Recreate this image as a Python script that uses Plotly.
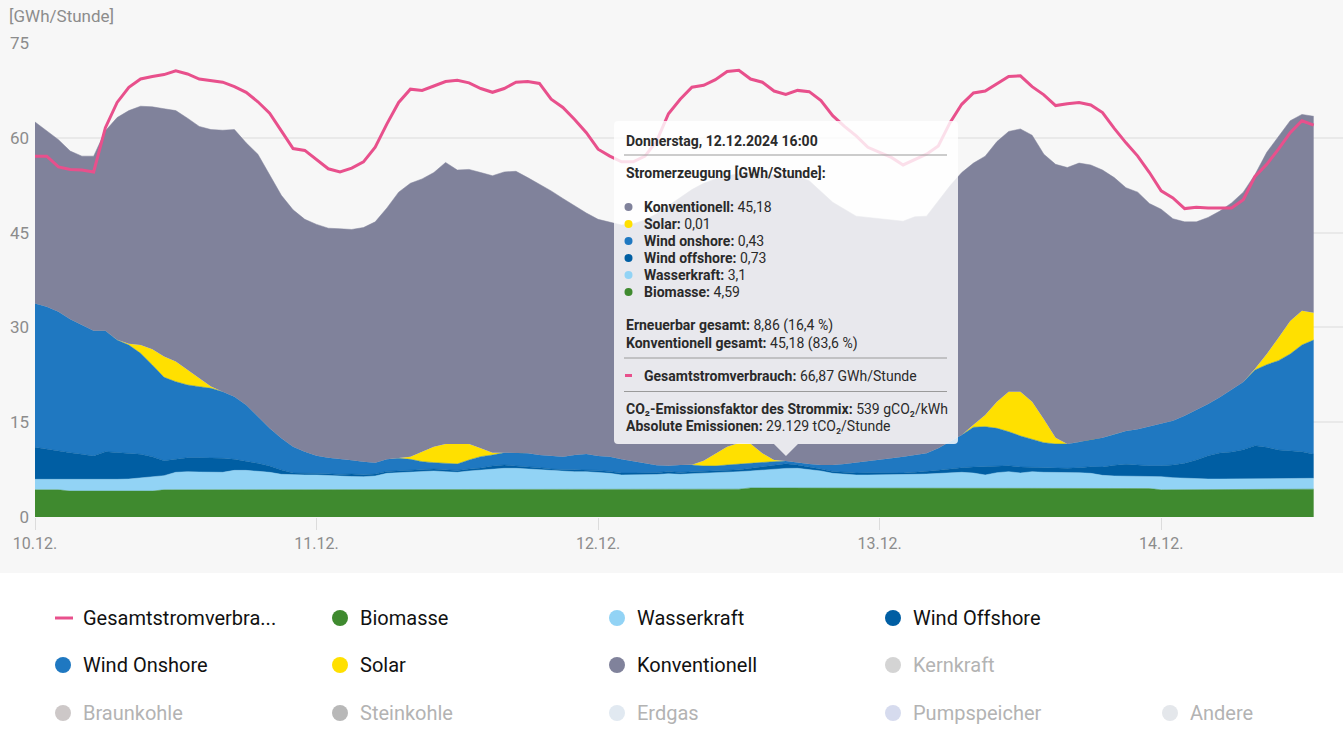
import pandas as pd
import plotly.graph_objects as go

W, H = 1343, 743
ML, MR, MT, MB = 35, 0, 43, 226   # plot area margins in px

hours = pd.date_range("2024-12-10 00:00", periods=110, freq="h")

biomasse = [4.3, 4.3, 4.3, 4.1, 4.1, 4.1, 4.1, 4.1, 4.1, 4.1,
            4.1, 4.3, 4.3, 4.3, 4.3, 4.3, 4.3, 4.3, 4.3, 4.3,
            4.3, 4.3, 4.3, 4.3, 4.3, 4.3, 4.3, 4.3, 4.3, 4.3,
            4.3, 4.3, 4.3, 4.3, 4.3, 4.3, 4.3, 4.3, 4.3, 4.3,
            4.3, 4.3, 4.3, 4.3, 4.3, 4.3, 4.3, 4.3, 4.3, 4.3,
            4.3, 4.4, 4.4, 4.4, 4.4, 4.4, 4.4, 4.4, 4.4, 4.4,
            4.4, 4.6, 4.6, 4.6, 4.59, 4.6, 4.6, 4.6, 4.6, 4.6,
            4.6, 4.6, 4.6, 4.6, 4.6, 4.6, 4.5, 4.5, 4.5, 4.5,
            4.5, 4.5, 4.5, 4.5, 4.5, 4.5, 4.5, 4.5, 4.5, 4.5,
            4.5, 4.5, 4.5, 4.5, 4.5, 4.5, 4.3, 4.3, 4.3, 4.3,
            4.3, 4.3, 4.3, 4.4, 4.4, 4.4, 4.4, 4.4, 4.4, 4.4]

wasserkraft = [1.66, 1.66, 1.61, 1.75, 1.75, 1.75, 1.81, 1.86, 1.91, 2.07,
               2.23, 2.24, 2.77, 2.87, 2.82, 2.77, 2.77, 3.08, 3.08, 2.93,
               2.77, 2.45, 2.35, 2.35, 2.35, 2.24, 2.13, 2.10, 2.08, 2.19,
               2.61, 2.71, 2.87, 2.87, 2.98, 2.87, 2.77, 2.98, 3.14, 3.24,
               3.40, 3.40, 3.29, 3.14, 2.98, 2.87, 2.87, 2.87, 2.77, 2.61,
               2.35, 2.25, 2.25, 2.32, 2.45, 2.35, 2.46, 2.51, 2.67, 2.72,
               2.77, 2.68, 2.84, 2.94, 3.10, 3.10, 2.94, 2.68, 2.31, 2.15,
               2.05, 2.05, 2.05, 2.05, 2.05, 2.15, 2.30, 2.41, 2.51, 2.57,
               2.45, 2.15, 2.51, 2.67, 2.46, 2.67, 2.57, 2.57, 2.57, 2.51,
               2.41, 2.09, 1.99, 1.99, 1.99, 1.88, 2.08, 1.92, 1.82, 1.71,
               1.71, 1.71, 1.71, 1.67, 1.72, 1.72, 1.72, 1.72, 1.67, 1.72]

wind_offshore = [5.06, 4.75, 4.53, 4.33, 4.07, 3.80, 4.43, 4.22, 4.06, 3.75,
                 3.22, 2.37, 2.05, 2.22, 2.27, 2.32, 2.21, 1.74, 1.48, 1.26,
                 1.00, 0.69, 0.30, 0.30, 0.30, 0.30, 0.30, 0.40, 0.30, 0.30,
                 0.30, 0.30, 0.30, 0.30, 0.30, 0.30, 0.30, 0.30, 0.30, 0.53,
                 0.53, 0.37, 0.37, 0.37, 0.31, 0.30, 0.30, 0.30, 0.30, 0.30,
                 0.30, 0.30, 0.30, 0.30, 0.35, 0.30, 0.30, 0.30, 0.30, 0.30,
                 0.30, 0.42, 0.52, 0.58, 0.73, 0.53, 0.42, 0.30, 0.30, 0.30,
                 0.30, 0.36, 0.31, 0.30, 0.30, 0.32, 0.37, 0.47, 0.58, 0.74,
                 0.95, 1.31, 1.06, 0.95, 0.95, 0.69, 0.63, 0.63, 0.63, 0.80,
                 1.05, 1.32, 1.69, 1.84, 1.69, 1.74, 1.74, 2.01, 2.37, 3.01,
                 3.69, 4.12, 4.27, 4.58, 5.17, 4.90, 4.48, 4.32, 4.27, 3.80]

wind_onshore = [22.78, 22.57, 22.05, 21.10, 20.46, 19.83, 19.14, 17.82, 17.13, 15.98,
                14.50, 13.19, 12.29, 11.50, 11.23, 10.97, 10.55, 9.92, 8.86, 7.39,
                5.96, 5.01, 4.18, 3.39, 2.75, 2.55, 2.39, 2.16, 2.08, 1.81,
                1.91, 1.97, 1.65, 1.29, 1.02, 1.02, 1.02, 1.44, 1.81, 1.74,
                1.95, 2.11, 2.11, 2.00, 2.11, 2.08, 2.34, 2.50, 2.28, 2.34,
                2.17, 1.81, 1.54, 1.18, 0.90, 1.18, 1.07, 0.86, 0.70, 0.81,
                0.92, 0.79, 0.64, 0.64, 0.43, 0.37, 0.43, 0.65, 1.02, 1.34,
                1.65, 1.75, 2.06, 2.33, 2.60, 2.74, 2.90, 3.48, 4.33, 5.16,
                6.30, 6.33, 5.96, 5.38, 4.91, 4.48, 4.06, 3.85, 3.85, 4.06,
                4.33, 4.64, 4.90, 5.28, 5.69, 6.17, 6.60, 7.01, 7.54, 7.91,
                8.18, 8.80, 9.82, 10.71, 11.97, 13.08, 14.14, 15.35, 16.88, 18.08]

solar = [0, 0, 0, 0, 0, 0, 0, 0.05, 0.2, 1.3,
         2.5, 3.3, 3.2, 2.4, 1.3, 0.3, 0, 0, 0, 0,
         0, 0, 0, 0, 0, 0, 0, 0, 0, 0,
         0, 0, 0.43, 1.58, 2.53, 3.06, 3.16, 2.53, 1.31, 0.37,
         0, 0, 0, 0, 0, 0, 0, 0, 0, 0,
         0, 0, 0, 0, 0, 0, 0.02, 0.84, 2.0, 2.9,
         3.3, 3.1, 1.47, 0.26, 0.01, 0, 0, 0, 0, 0,
         0, 0, 0, 0, 0, 0, 0, 0, 0, 0,
         0.4, 1.85, 4.22, 6.33, 7.01, 5.91, 3.69, 1.0, 0, 0,
         0, 0, 0, 0, 0, 0, 0, 0, 0, 0,
         0, 0, 0, 0, 0.2, 1.69, 3.64, 5.22, 5.43, 4.33]

konventionell = [28.70, 27.82, 27.21, 26.62, 26.72, 27.62, 31.62, 35.15, 36.90, 37.80,
                 38.35, 39.20, 39.69, 39.81, 39.88, 40.64, 41.37, 42.26, 41.48, 41.52,
                 40.17, 38.45, 37.47, 36.76, 36.60, 36.31, 36.48, 36.54, 37.04, 38.10,
                 39.78, 42.12, 43.25, 43.16, 43.37, 44.55, 43.35, 43.45, 43.64, 43.82,
                 44.42, 44.52, 43.63, 42.89, 41.90, 40.85, 39.39, 38.13, 37.45, 37.05,
                 37.08, 37.64, 38.51, 39.80, 41.20, 42.37, 43.55, 43.89, 43.43, 42.87,
                 42.61, 42.71, 44.13, 45.08, 45.18, 45.30, 44.81, 43.27, 41.57, 40.31,
                 39.00, 38.64, 38.18, 37.82, 37.25, 37.69, 37.53, 39.14, 40.48, 41.53,
                 41.40, 40.96, 41.15, 41.17, 41.57, 42.15, 41.95, 43.25, 43.75, 44.13,
                 43.41, 42.35, 40.62, 38.49, 37.53, 35.31, 33.98, 31.96, 30.67, 29.77,
                 29.52, 29.47, 29.60, 30.04, 30.74, 31.91, 31.92, 31.69, 31.05, 31.07]

verbrauch = [57.1, 57.1, 55.4, 55.0, 54.9, 54.6, 61.6, 65.6, 68.0, 69.3,
             69.7, 70.0, 70.6, 70.1, 69.3, 69.1, 68.8, 68.1, 67.2, 65.7,
             63.9, 61.1, 58.3, 58.0, 56.5, 55.1, 54.6, 55.2, 56.2, 58.5,
             62.2, 65.6, 67.7, 67.5, 68.2, 68.9, 69.1, 68.7, 67.8, 67.2,
             67.8, 68.8, 68.9, 68.6, 66.1, 64.8, 62.9, 60.8, 58.2, 57.1,
             56.2, 56.2, 57.1, 59.5, 63.8, 66.1, 68.0, 68.3, 69.2, 70.5,
             70.7, 69.3, 68.8, 67.4, 66.87, 67.5, 67.3, 65.9, 63.5, 61.8,
             60.3, 58.5, 57.7, 56.9, 55.7, 56.5, 57.4, 58.7, 62.4, 65.3,
             67.1, 67.4, 68.5, 69.7, 69.8, 68.1, 66.8, 65.1, 65.4, 65.6,
             65.2, 64.0, 61.5, 59.2, 57.1, 54.5, 51.6, 50.5, 48.8, 49.0,
             48.9, 48.9, 48.9, 50.2, 53.9, 55.8, 58.2, 60.8, 62.7, 62.0]

day_ticks = ["2024-12-10", "2024-12-11", "2024-12-12", "2024-12-13", "2024-12-14"]
day_labels = ["10.12.", "11.12.", "12.12.", "13.12.", "14.12."]
y_ticks = [0, 15, 30, 45, 60, 75]

TIP = 64  # hovered hour: 12.12.2024 16:00
co2_faktor = "539"
co2_absolut = "29.129"

FONT = "Roboto, Noto Sans, sans-serif"
C_GREY = "#8c8c8c"
C_PINK = "#e8508c"

series = [
    ("Biomasse", biomasse, "#3f8a2f"),
    ("Wasserkraft", wasserkraft, "#92d3f5"),
    ("Wind Offshore", wind_offshore, "#005ea3"),
    ("Wind Onshore", wind_onshore, "#1f78c1"),
    ("Solar", solar, "#ffe000"),
    ("Konventionell", konventionell, "#80829b"),
]


def fx(px):
    return (px - ML) / (W - ML - MR)


def fy(py):
    return (H - MB - py) / (H - MT - MB)


def de(v, nd=2):
    s = f"{v:.{nd}f}".rstrip("0").rstrip(".")
    return s.replace(".", ",")


fig = go.Figure()
for name, vals, col in series:
    lw = 0 if name == "Solar" else 0.5
    fig.add_trace(go.Scatter(x=hours, y=vals, name=name, stackgroup="erzeugung", mode="lines",
                             line=dict(width=lw, color=col), fillcolor=col))
fig.add_trace(go.Scatter(x=hours, y=verbrauch, name="Gesamtstromverbrauch", mode="lines",
                         line=dict(color=C_PINK, width=3)))

shapes = []
annotations = []

# grey chart background (legend area below stays white)
shapes.append(dict(type="rect", xref="paper", yref="paper", x0=fx(0), x1=fx(W), y0=fy(573), y1=fy(0),
                   fillcolor="#f7f7f7", line=dict(width=0), layer="below"))

annotations.append(dict(text="[GWh/Stunde]", xref="paper", yref="paper", x=fx(7), y=fy(16),
                        xanchor="left", yanchor="middle", showarrow=False,
                        font=dict(size=17, color=C_GREY, family=FONT)))

# ---- tooltip box ----
x0, x1, y0, y1, r = 614, 958, 121, 444, 4
ax, ay, hw = 786, 456, 12
pts = [("M", x0 + r, y0), ("L", x1 - r, y0), ("Q", x1, y0, x1, y0 + r), ("L", x1, y1 - r),
       ("Q", x1, y1, x1 - r, y1), ("L", ax + hw, y1), ("L", ax, ay), ("L", ax - hw, y1),
       ("L", x0 + r, y1), ("Q", x0, y1, x0, y1 - r), ("L", x0, y0 + r), ("Q", x0, y0, x0 + r, y0)]
path = ""
for p in pts:
    cmd, coords = p[0], p[1:]
    xy = []
    for i in range(0, len(coords), 2):
        xy.append(f"{fx(coords[i]):.5f},{fy(coords[i + 1]):.5f}")
    path += cmd + " " + " ".join(xy) + " "
path += "Z"
shapes.append(dict(type="path", xref="paper", yref="paper", path=path,
                   fillcolor="rgba(255,255,255,0.82)", line=dict(width=0), layer="above"))

for sy in [155, 358, 391.5]:
    shapes.append(dict(type="line", xref="paper", yref="paper", x0=fx(624), x1=fx(947), y0=fy(sy), y1=fy(sy),
                       line=dict(color="#9a9a9a", width=1), layer="above"))


def tip_text(y, text, x=624):
    annotations.append(dict(text=text, xref="paper", yref="paper", x=fx(x), y=fy(y),
                            xanchor="left", yanchor="middle", showarrow=False,
                            font=dict(size=14, color="#2a2a2a", family=FONT)))


tip_text(140.5, "<b>Donnerstag, 12.12.2024 16:00</b>")
tip_text(173, "<b>Stromerzeugung [GWh/Stunde]:</b>")
tip_rows = [("Konventionell", konventionell, "#80829b", 2), ("Solar", solar, "#ffe000", 2),
            ("Wind onshore", wind_onshore, "#1f78c1", 2), ("Wind offshore", wind_offshore, "#005ea3", 2),
            ("Wasserkraft", wasserkraft, "#92d3f5", 2), ("Biomasse", biomasse, "#3f8a2f", 2)]
for i, (lab, vals, col, nd) in enumerate(tip_rows):
    yy = 207 + 17 * i
    shapes.append(dict(type="circle", xref="paper", yref="paper", x0=fx(624.5), x1=fx(632.5),
                       y0=fy(yy + 4), y1=fy(yy - 4), fillcolor=col, line=dict(width=0), layer="above"))
    tip_text(yy, f"<b>{lab}:</b> {de(vals[TIP], nd)}", x=642)

erneuerbar = solar[TIP] + wind_onshore[TIP] + wind_offshore[TIP] + wasserkraft[TIP] + biomasse[TIP]
gesamt = erneuerbar + konventionell[TIP]
tip_text(326, f"<b>Erneuerbar gesamt:</b> {de(erneuerbar)} ({de(100 * erneuerbar / gesamt, 1)} %)")
tip_text(343, f"<b>Konventionell gesamt:</b> {de(konventionell[TIP])} ({de(100 * konventionell[TIP] / gesamt, 1)} %)")
shapes.append(dict(type="line", xref="paper", yref="paper", x0=fx(625), x1=fx(632), y0=fy(375.5), y1=fy(375.5),
                   line=dict(color=C_PINK, width=3), layer="above"))
tip_text(375.5, f"<b>Gesamtstromverbrauch:</b> {de(verbrauch[TIP])} GWh/Stunde", x=642)
tip_text(409, f"<b>CO₂-Emissionsfaktor des Strommix:</b> {co2_faktor} gCO₂/kWh")
tip_text(426, f"<b>Absolute Emissionen:</b> {co2_absolut} tCO₂/Stunde")

# ---- custom legend ----
col_x = [55, 332, 609, 885, 1162]
row_y = [618, 665, 713]
legend_items = [
    (0, 0, "Gesamtstromverbra...", C_PINK, True, "line"),
    (0, 1, "Biomasse", "#3f8a2f", True, "dot"),
    (0, 2, "Wasserkraft", "#92d3f5", True, "dot"),
    (0, 3, "Wind Offshore", "#005ea3", True, "dot"),
    (1, 0, "Wind Onshore", "#1f78c1", True, "dot"),
    (1, 1, "Solar", "#ffe000", True, "dot"),
    (1, 2, "Konventionell", "#80829b", True, "dot"),
    (1, 3, "Kernkraft", "#d4d4d4", False, "dot"),
    (2, 0, "Braunkohle", "#cdc8c8", False, "dot"),
    (2, 1, "Steinkohle", "#b8b8b8", False, "dot"),
    (2, 2, "Erdgas", "#e1e9f1", False, "dot"),
    (2, 3, "Pumpspeicher", "#d6dbee", False, "dot"),
    (2, 4, "Andere", "#e4e7eb", False, "dot"),
]
for row, c, lab, col, active, kind in legend_items:
    lx, ly = col_x[c], row_y[row]
    if kind == "line":
        shapes.append(dict(type="line", xref="paper", yref="paper", x0=fx(lx), x1=fx(lx + 18),
                           y0=fy(ly), y1=fy(ly), line=dict(color=col, width=3)))
    else:
        shapes.append(dict(type="circle", xref="paper", yref="paper", x0=fx(lx), x1=fx(lx + 16),
                           y0=fy(ly + 8), y1=fy(ly - 8), fillcolor=col, line=dict(width=0)))
    annotations.append(dict(text=lab, xref="paper", yref="paper", x=fx(lx + 26), y=fy(ly),
                            xanchor="left", yanchor="middle", showarrow=False,
                            font=dict(size=20, color="#111111" if active else "#b3b3b3", family=FONT)))

fig.update_layout(
    width=W, height=H,
    margin=dict(l=ML, r=MR, t=MT, b=MB),
    paper_bgcolor="white", plot_bgcolor="#f7f7f7",
    showlegend=False, hovermode=False,
    font=dict(family=FONT),
    shapes=shapes, annotations=annotations,
)
fig.update_xaxes(type="date", range=["2024-12-10 00:00", "2024-12-14 15:30"],
                 tickvals=day_ticks, ticktext=day_labels, ticks="outside", ticklen=12,
                 tickcolor="#dcdcdc", tickwidth=1, showgrid=False, showline=False, zeroline=False,
                 tickfont=dict(size=16, color=C_GREY))
fig.update_yaxes(range=[0, 75], tickvals=y_ticks, showgrid=True, gridcolor="#e9e9e9", gridwidth=2,
                 zeroline=False, showline=False, ticks="", ticklabelstandoff=5,
                 tickfont=dict(size=17, color=C_GREY))

fig.write_html("out.html", config={"displayModeBar": False},
               post_script="document.body.style.margin='0';")
